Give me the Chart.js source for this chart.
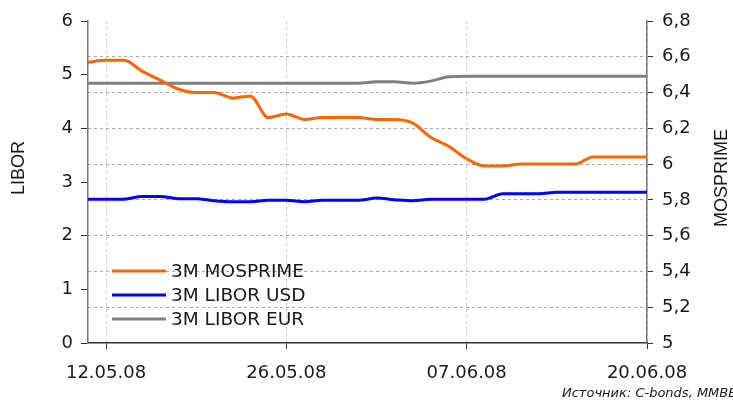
<!DOCTYPE html>
<html>
<head>
<meta charset="utf-8">
<script src="https://cdn.jsdelivr.net/npm/chart.js@4/dist/chart.umd.min.js"></script>
<style>
  body { margin: 0; background: #fff; }
  canvas { display: block; }
</style>
</head>
<body>
<canvas id="myChart" width="733" height="401"></canvas>
<script>
// dates (trading days), only 4 of them get a tick label
const dates = [
  "08.05.08", "12.05.08", "13.05.08", "14.05.08", "15.05.08", "16.05.08",
  "19.05.08", "20.05.08", "21.05.08", "22.05.08", "23.05.08", "26.05.08",
  "27.05.08", "28.05.08", "29.05.08", "30.05.08", "02.06.08", "03.06.08",
  "04.06.08", "05.06.08", "06.06.08", "07.06.08", "09.06.08", "10.06.08",
  "11.06.08", "12.06.08", "13.06.08", "16.06.08", "17.06.08", "18.06.08",
  "19.06.08", "20.06.08"
];
const shownDates = ["12.05.08", "26.05.08", "07.06.08", "20.06.08"];

const mosprime = [
  6.57, 6.58, 6.58, 6.52, 6.47, 6.42, 6.40, 6.40, 6.37, 6.38, 6.26, 6.28,
  6.25, 6.26, 6.26, 6.26, 6.25, 6.25, 6.23, 6.15, 6.10, 6.03, 5.99, 5.99,
  6.00, 6.00, 6.00, 6.00, 6.04, 6.04, 6.04, 6.04
];
const liborUsd = [
  2.68, 2.68, 2.68, 2.73, 2.73, 2.69, 2.69, 2.65, 2.63, 2.63, 2.66, 2.66,
  2.63, 2.66, 2.66, 2.66, 2.70, 2.67, 2.65, 2.68, 2.68, 2.68, 2.68, 2.78,
  2.78, 2.78, 2.81, 2.81, 2.81, 2.81, 2.81, 2.81
];
const liborEur = [
  4.84, 4.84, 4.84, 4.84, 4.84, 4.84, 4.84, 4.84, 4.84, 4.84, 4.84, 4.84,
  4.84, 4.84, 4.84, 4.84, 4.87, 4.87, 4.84, 4.88, 4.96, 4.97, 4.97, 4.97,
  4.97, 4.97, 4.97, 4.97, 4.97, 4.97, 4.97, 4.97
];

const seriesNames = ["3M MOSPRIME", "3M LIBOR USD", "3M LIBOR EUR"];
const seriesColors = ["#ff6600", "#0000ff", "#808080"];
const leftTitle = "LIBOR";
const rightTitle = "MOSPRIME";
const sourceNote = "Источник: C-bonds, ММВБ";

const tickFont = { family: "'DejaVu Sans', Verdana, sans-serif", size: 18 };

// legend inside the plot, axis titles and the source note
const extras = {
  id: "extras",
  afterDraw(chart) {
    const ctx = chart.ctx;
    ctx.save();
    ctx.font = "18.5px 'DejaVu Sans', Verdana, sans-serif";
    ctx.textBaseline = "middle";
    chart.data.datasets.forEach((ds, i) => {
      const y = 271 + i * 24;
      ctx.strokeStyle = ds.borderColor;
      ctx.lineWidth = 3;
      ctx.beginPath();
      ctx.moveTo(112, y);
      ctx.lineTo(166, y);
      ctx.stroke();
      ctx.fillStyle = "#1a1a1a";
      ctx.fillText(ds.label, 171, y + 1);
    });

    ctx.font = "18px 'Liberation Sans', Arial, sans-serif";
    ctx.fillStyle = "#1a1a1a";
    ctx.textAlign = "center";
    ctx.save();
    ctx.translate(19, 168);
    ctx.rotate(-Math.PI / 2);
    ctx.fillText(leftTitle, 0, 0);
    ctx.restore();
    ctx.save();
    ctx.translate(722, 178);
    ctx.rotate(-Math.PI / 2);
    ctx.fillText(rightTitle, 0, 0);
    ctx.restore();

    ctx.textAlign = "left";
    ctx.font = "italic 13px 'DejaVu Sans', Verdana, sans-serif";
    ctx.fillText(sourceNote, 562, 394);
    ctx.restore();
  }
};

let ctx = document.getElementById("myChart");

let chart = new Chart(ctx, {
  type: "line",
  data: {
    labels: dates,
    datasets: [
      {
        label: seriesNames[0],
        data: mosprime,
        yAxisID: "y1",
        borderColor: seriesColors[0],
        borderWidth: 3,
        pointRadius: 0,
        cubicInterpolationMode: "monotone",
      },
      {
        label: seriesNames[1],
        data: liborUsd,
        yAxisID: "y",
        borderColor: seriesColors[1],
        borderWidth: 3,
        pointRadius: 0,
        cubicInterpolationMode: "monotone",
      },
      {
        label: seriesNames[2],
        data: liborEur,
        yAxisID: "y",
        borderColor: seriesColors[2],
        borderWidth: 3,
        pointRadius: 0,
        cubicInterpolationMode: "monotone",
      },
    ],
  },
  options: {
    responsive: false,
    animation: false,
    layout: { padding: { top: 21, left: 0, right: 0, bottom: 0 } },
    plugins: {
      legend: { display: false },
      tooltip: { enabled: false },
    },
    scales: {
      x: {
        type: "category",
        offset: false,
        afterFit: (scale) => { scale.height = 58; },
        border: { display: true, color: "#333", width: 1.5, dash: [3, 3] },
        grid: {
          color: "#cccccc",
          tickColor: "#333",
          tickLength: 6,
          tickBorderDash: [],
        },
        ticks: {
          autoSkip: false,
          maxRotation: 0,
          padding: 14,
          color: "#1a1a1a",
          font: tickFont,
          callback: function (val, i) {
            const lab = this.getLabelForValue(val);
            return shownDates.includes(lab) ? lab : null;
          },
        },
      },
      y: {
        position: "left",
        min: 0,
        max: 6,
        afterFit: (scale) => { scale.width = 88; },
        border: { display: true, color: "#777", width: 1.5 },
        grid: { drawOnChartArea: false, tickColor: "#333", tickLength: 7 },
        ticks: { stepSize: 1, padding: 8, color: "#1a1a1a", font: tickFont },
      },
      y1: {
        position: "right",
        min: 5,
        max: 6.8,
        afterFit: (scale) => { scale.width = 86; },
        border: { display: true, color: "#777", width: 1.5, dash: [3, 3] },
        grid: {
          color: (c) => (c.tick && (c.tick.value === 5 || c.tick.value > 6.79) ? "rgba(0,0,0,0)" : "#a8a8a8"),
          tickColor: "#333",
          tickLength: 6,
          tickBorderDash: [],
        },
        ticks: {
          stepSize: 0.2,
          padding: 9,
          color: "#1a1a1a",
          font: tickFont,
          callback: (v) => {
            const r = Math.round(v * 10) / 10;
            return Number.isInteger(r) ? String(r) : r.toFixed(1).replace(".", ",");
          },
        },
      },
    },
  },
  plugins: [extras],
});
</script>
</body>
</html>
